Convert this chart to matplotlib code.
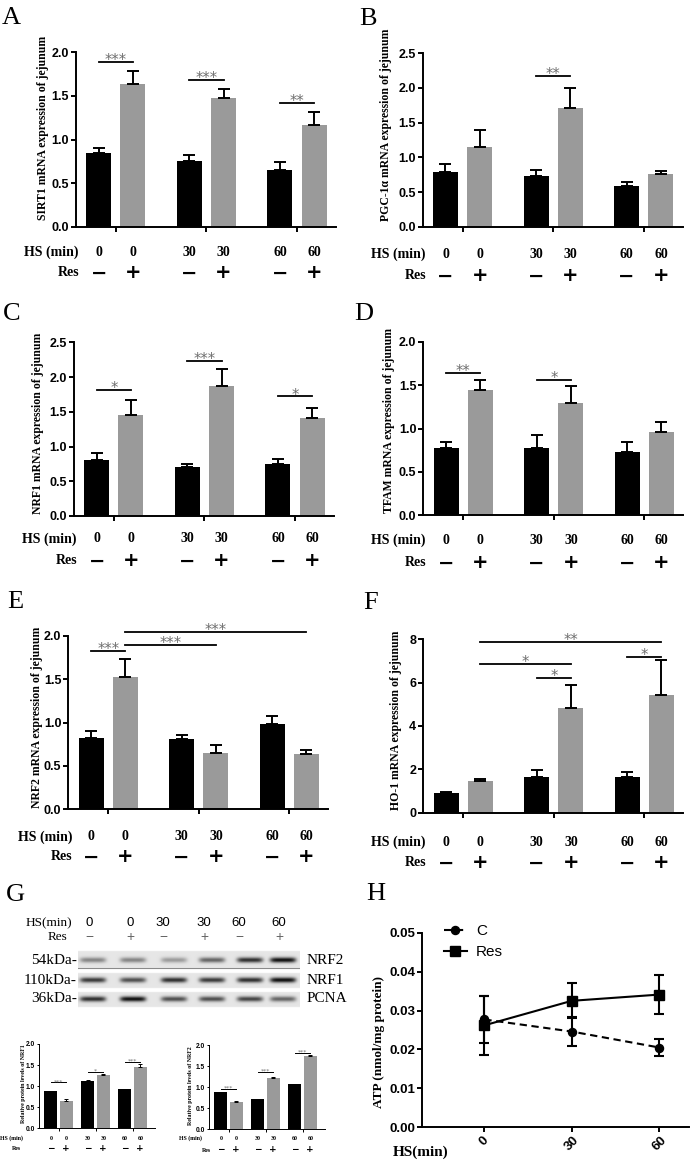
import numpy as np
import matplotlib
matplotlib.use('Agg')
import matplotlib.pyplot as plt
from matplotlib import transforms
from matplotlib.ticker import FormatStrFormatter

W, H = 693, 1162
SERIF = 'Liberation Serif'
SANS = 'Liberation Sans'
GRAY = '#9a9a9a'
STAR = '#6e6e6e'

# ---------------- data ----------------
hs_min = ['0', '0', '30', '30', '60', '60']
res_sign = ['\u2212', '+', '\u2212', '+', '\u2212', '+']

# A  SIRT1
sirt1 = [0.84, 1.64, 0.75, 1.48, 0.65, 1.17]
sirt1_sem = [0.065, 0.145, 0.07, 0.095, 0.09, 0.14]
sirt1_sig = [(0, 1, 1.885, '***'), (2, 3, 1.683, '***'), (4, 5, 1.415, '**')]

# B  PGC-1a
pgc = [0.79, 1.15, 0.735, 1.705, 0.58, 0.755]
pgc_sem = [0.11, 0.25, 0.08, 0.30, 0.065, 0.053]
pgc_sig = [(2, 3, 2.17, '**')]

# C  NRF1
nrf1 = [0.80, 1.45, 0.71, 1.87, 0.745, 1.415]
nrf1_sem = [0.105, 0.215, 0.04, 0.245, 0.08, 0.145]
nrf1_sig = [(0, 1, 1.82, '*'), (2, 3, 2.23, '***'), (4, 5, 1.72, '*')]

# D  TFAM
tfam = [0.77, 1.445, 0.77, 1.295, 0.735, 0.96]
tfam_sem = [0.075, 0.115, 0.15, 0.195, 0.11, 0.12]
tfam_sig = [(0, 1, 1.635, '**'), (2, 3, 1.56, '*')]

# E  NRF2
nrf2 = [0.827, 1.523, 0.815, 0.654, 0.985, 0.635]
nrf2_sem = [0.08, 0.21, 0.045, 0.085, 0.09, 0.05]
nrf2_sig = [(0, 1, 1.827, '***'), (1, 3, 1.896, '***'), (1, 5, 2.05, '***')]

# F  HO-1
ho1 = [0.92, 1.45, 1.65, 4.85, 1.66, 5.43]
ho1_sem = [0.02, 0.12, 0.34, 1.05, 0.23, 1.62]
ho1_sig = [(1, 5, 7.88, '**'), (1, 3, 6.85, '*'), (2, 3, 6.23, '*'), (4, 5, 7.2, '*')]

# G  western blot densitometry
wb_nrf1 = [0.885, 0.648, 1.123, 1.257, 0.925, 1.455]
wb_nrf1_sem = [0.01, 0.045, 0.015, 0.03, 0.008, 0.07]
wb_nrf1_sig = [(0, 1, 1.09, '***'), (2, 3, 1.34, '*'), (4, 5, 1.58, '***')]
wb_nrf2 = [0.885, 0.656, 0.711, 1.225, 1.067, 1.731]
wb_nrf2_sem = [0.008, 0.006, 0.005, 0.025, 0.015, 0.025]
wb_nrf2_sig = [(0, 1, 0.964, '***'), (2, 3, 1.368, '***'), (4, 5, 1.818, '***')]

# blot band strength per lane (0 none .. 1 darkest)
blot_names = ['NRF2', 'NRF1', 'PCNA']
blot_kda = ['54kDa-', '110kDa-', '36kDa-']
band_nrf2 = [0.45, 0.45, 0.35, 0.6, 0.85, 1.0]
band_nrf1 = [0.8, 0.7, 0.85, 0.8, 0.85, 1.0]
band_pcna = [0.85, 1.0, 0.7, 0.7, 0.75, 0.6]

# H  ATP
atp_time = [0, 30, 60]
atp_c = [0.0277, 0.0246, 0.0205]
atp_c_sem = [0.006, 0.0037, 0.0021]
atp_res = [0.0262, 0.0325, 0.0341]
atp_res_sem = [0.0076, 0.0045, 0.005]

# ---------------- layout helpers ----------------
fig = plt.figure(figsize=(W / 100, H / 100), dpi=100)


def fx(px):
    return px / W


def fy(py):
    return 1 - py / H


def px_axes(x0, y0, x1, y1):
    return fig.add_axes([fx(x0), fy(y1), (x1 - x0) / W, (y1 - y0) / H])


BIG = dict(width=0.276, off=0.189, xlim=(-0.44, 2.43), gpx=90.6, tick_fs=9, lab_fs=10,
           sign_fs=14, star_fs=10.5, star_dy=-2.2, lw=1.4, cap=4.3, ylab_fs=8.5,
           sig_lw=1.3, tick_len=3.5)
SMALL = dict(width=0.34, off=0.21, xlim=(-0.52, 2.6), gpx=37, tick_fs=4.8, lab_fs=4.2,
             sign_fs=6.5, star_fs=4.5, star_dy=-0.8, lw=0.7, cap=1.6, ylab_fs=4.2,
             sig_lw=0.7, tick_len=1.8)


def bar_panel(x0, ytop, ybot, ymax, step, vals, sem, sigs, ylabel, ylab_xy,
              hs_y, res_y, hs_x, res_x, st, fmt='%.1f'):
    width_px = (st['xlim'][1] - st['xlim'][0]) * st['gpx']
    ax = px_axes(x0, ytop, x0 + width_px, ybot)
    g = np.arange(3)
    xs = np.ravel(np.column_stack([g - st['off'], g + st['off']]))
    ax.bar(xs, vals, width=st['width'], color=['black', GRAY] * 3, zorder=2)
    ax.errorbar(xs, vals, yerr=[np.zeros(len(vals)), sem], fmt='none', ecolor='black',
                elinewidth=st['lw'], capsize=st['cap'], capthick=st['lw'], zorder=3)
    ax.set_xlim(*st['xlim'])
    ax.set_ylim(0, ymax)
    ax.set_yticks(np.arange(0, ymax + step / 2, step))
    ax.yaxis.set_major_formatter(FormatStrFormatter(fmt))
    ax.set_xticks(g)
    ax.set_xticklabels([])
    for s in ['top', 'right']:
        ax.spines[s].set_visible(False)
    for s in ['left', 'bottom']:
        ax.spines[s].set_linewidth(st['lw'])
    ax.tick_params(direction='out', length=st['tick_len'], width=st['lw'],
                   labelsize=st['tick_fs'], pad=1.5)
    for t in ax.get_yticklabels():
        t.set_fontfamily(SANS)
        t.set_fontweight('bold')
    for i, j, y, s in sigs:
        ax.plot([xs[i], xs[j]], [y, y], color='black', lw=st['sig_lw'], clip_on=False)
        ax.annotate(s, xy=((xs[i] + xs[j]) / 2, y), xytext=(0, st['star_dy']),
                    textcoords='offset points', ha='center', va='baseline',
                    fontsize=st['star_fs'], color=STAR, family='DejaVu Sans',
                    annotation_clip=False)
    tr = transforms.blended_transform_factory(ax.transData, fig.transFigure)
    for k in range(6):
        ax.text(xs[k], fy(hs_y), hs_min[k], transform=tr, ha='center', va='center',
                fontsize=st['lab_fs'], fontweight='bold', family=SERIF)
        ax.text(xs[k], fy(res_y), res_sign[k], transform=tr, ha='center', va='center',
                fontsize=st['sign_fs'], fontweight='bold', family='DejaVu Sans')
    fig.text(fx(hs_x), fy(hs_y), 'HS (min)', ha='right', va='center',
             fontsize=st['lab_fs'], fontweight='bold', family=SERIF)
    fig.text(fx(res_x), fy(res_y), 'Res', ha='right', va='center',
             fontsize=st['lab_fs'], fontweight='bold', family=SERIF)
    fig.text(fx(ylab_xy[0]), fy(ylab_xy[1]), ylabel, rotation=90, ha='center',
             va='center', fontsize=st['ylab_fs'], fontweight='bold', family=SERIF)
    return ax


def letter(ch, x, y):
    fig.text(fx(x), fy(y), ch, fontsize=19, family=SERIF, ha='left', va='baseline')


# ---------------- panels A-F ----------------
bar_panel(76, 52.3, 226.7, 2.0, 0.5, sirt1, sirt1_sem, sirt1_sig,
          'SIRT1 mRNA expression of jejunum', (43, 128), 252, 273, 79, 79, BIG)
bar_panel(422.7, 53.3, 226.7, 2.5, 0.5, pgc, pgc_sem, pgc_sig,
          'PGC-1\u03b1 mRNA expression of jejunum', (386, 125), 254, 276, 426, 426, BIG)
bar_panel(74, 342.3, 516, 2.5, 0.5, nrf1, nrf1_sem, nrf1_sig,
          'NRF1 mRNA expression of jejunum', (38, 423), 539, 561, 77, 77, BIG)
bar_panel(423.3, 341.7, 515.3, 2.0, 0.5, tfam, tfam_sem, tfam_sig,
          'TFAM mRNA expression of jejunum', (389, 420), 540, 563, 426, 426, BIG)
bar_panel(68.3, 636, 809.3, 2.0, 0.5, nrf2, nrf2_sem, nrf2_sig,
          'NRF2 mRNA expression of jejunum', (37, 717), 837, 857, 72, 72, BIG)
bar_panel(423.3, 639.3, 812.7, 8, 2, ho1, ho1_sem, ho1_sig,
          'HO-1 mRNA expression of jejunum', (396, 720), 842, 863, 426, 426, BIG, fmt='%d')

# ---------------- panel G: blot ----------------
lane_x = [93, 133, 174, 212, 250, 283]
label_x = [89, 130, 163, 204, 239, 279]
for xl, h in zip(label_x, hs_min):
    fig.text(fx(xl), fy(923), h, ha='center', va='center', fontsize=9.5, family=SANS)
for xl, s in zip(label_x, res_sign):
    fig.text(fx(xl), fy(937), s, ha='center', va='center', fontsize=10, family=SANS,
             color='#666666')
fig.text(fx(72), fy(923), 'HS(min)', ha='right', va='center', fontsize=9.5, family=SERIF)
fig.text(fx(67), fy(937), 'Res', ha='right', va='center', fontsize=9.5, family=SERIF)

bax = px_axes(78, 948, 300, 1010)
yy, xx = np.mgrid[948:1010:0.5, 78:300:0.5] + 0.25
img = np.ones_like(xx)
strips = [(951, 968, 960, band_nrf2), (973, 988, 980, band_nrf1), (992, 1007, 999, band_pcna)]
for top, bot, cy, bands in strips:
    inside = (yy >= top) & (yy <= bot)
    img[inside] = 0.9
    for cx, b in zip(lane_x, bands):
        prof = np.exp(-((yy - cy) / 2.6) ** 2) * np.exp(-((xx - cx) / 13.0) ** 6)
        img = np.where(inside, img - 0.85 * b * prof, img)
bax.imshow(img, cmap='gray', vmin=0, vmax=1, extent=(78, 300, 1010, 948),
           interpolation='bilinear', aspect='auto')
bax.plot([78, 300], [967.5, 967.5], color='#8a8a8a', lw=0.8)
bax.set_xlim(78, 300)
bax.set_ylim(1010, 948)
bax.axis('off')
for (top, bot, cy, _), name, kda in zip(strips, blot_names, blot_kda):
    fig.text(fx(77), fy(cy), kda, ha='right', va='center', fontsize=11, family=SERIF)
    fig.text(fx(307), fy(cy), name, ha='left', va='center', fontsize=11, family=SERIF)

bar_panel(39.3, 1044, 1128.3, 2.0, 0.5, wb_nrf1, wb_nrf1_sem, wb_nrf1_sig,
          'Relative protein levels of NRF1', (23, 1084), 1138, 1148.5, 23, 21, SMALL)
bar_panel(209.3, 1045, 1129.3, 2.0, 0.5, wb_nrf2, wb_nrf2_sem, wb_nrf2_sig,
          'Relative protein levels of NRF2', (191, 1086), 1138.5, 1150, 202, 211, SMALL)

# ---------------- panel H: ATP ----------------
hax = px_axes(422, 932.7, 689, 1127.3)
lc, = hax.plot(atp_time, atp_c, color='black', lw=1.5, ls=(0, (3.5, 2.2)),
               marker='o', ms=5.8, label='C')
lr, = hax.plot(atp_time, atp_res, color='black', lw=1.5, marker='s', ms=6.5, label='Res')
hax.errorbar(atp_time, atp_c, yerr=atp_c_sem, fmt='none', ecolor='black',
             elinewidth=1.5, capsize=3.5, capthick=1.5)
hax.errorbar(atp_time, atp_res, yerr=atp_res_sem, fmt='none', ecolor='black',
             elinewidth=1.5, capsize=3.5, capthick=1.5)
hax.set_xlim(-21.4, 70.2)
hax.set_ylim(0, 0.05)
hax.set_yticks(np.arange(0, 0.0501, 0.01))
hax.yaxis.set_major_formatter(FormatStrFormatter('%.2f'))
hax.set_xticks(atp_time)
hax.set_xticklabels([str(t) for t in atp_time], rotation=45)
for s in ['top', 'right']:
    hax.spines[s].set_visible(False)
for s in ['left', 'bottom']:
    hax.spines[s].set_linewidth(1.4)
hax.tick_params(direction='out', length=3.5, width=1.4, labelsize=9.5, pad=1.5)
for t in hax.get_yticklabels() + hax.get_xticklabels():
    t.set_fontfamily(SANS)
    t.set_fontweight('bold')
hax.legend(handles=[lc, lr], loc='upper left', bbox_to_anchor=(fx(444), fy(924)),
           bbox_transform=fig.transFigure, frameon=False, prop={'family': SANS, 'size': 11},
           handlelength=1.5, handletextpad=0.6, labelspacing=0.45, borderpad=0,
           borderaxespad=0)
fig.text(fx(448), fy(1152), 'HS(min)', ha='right', va='center', fontsize=11,
         fontweight='bold', family=SERIF)
fig.text(fx(379), fy(1042), 'ATP (nmol/mg protein)', rotation=90, ha='center',
         va='center', fontsize=9.5, fontweight='bold', family=SERIF)

# ---------------- panel letters ----------------
letter('A', 2, 24)
letter('B', 359, 25)
letter('C', 3, 320)
letter('D', 354, 320)
letter('E', 7, 608)
letter('F', 363, 609)
letter('G', 6, 901)
letter('H', 366, 900)

fig.savefig('out.png', dpi=100)
